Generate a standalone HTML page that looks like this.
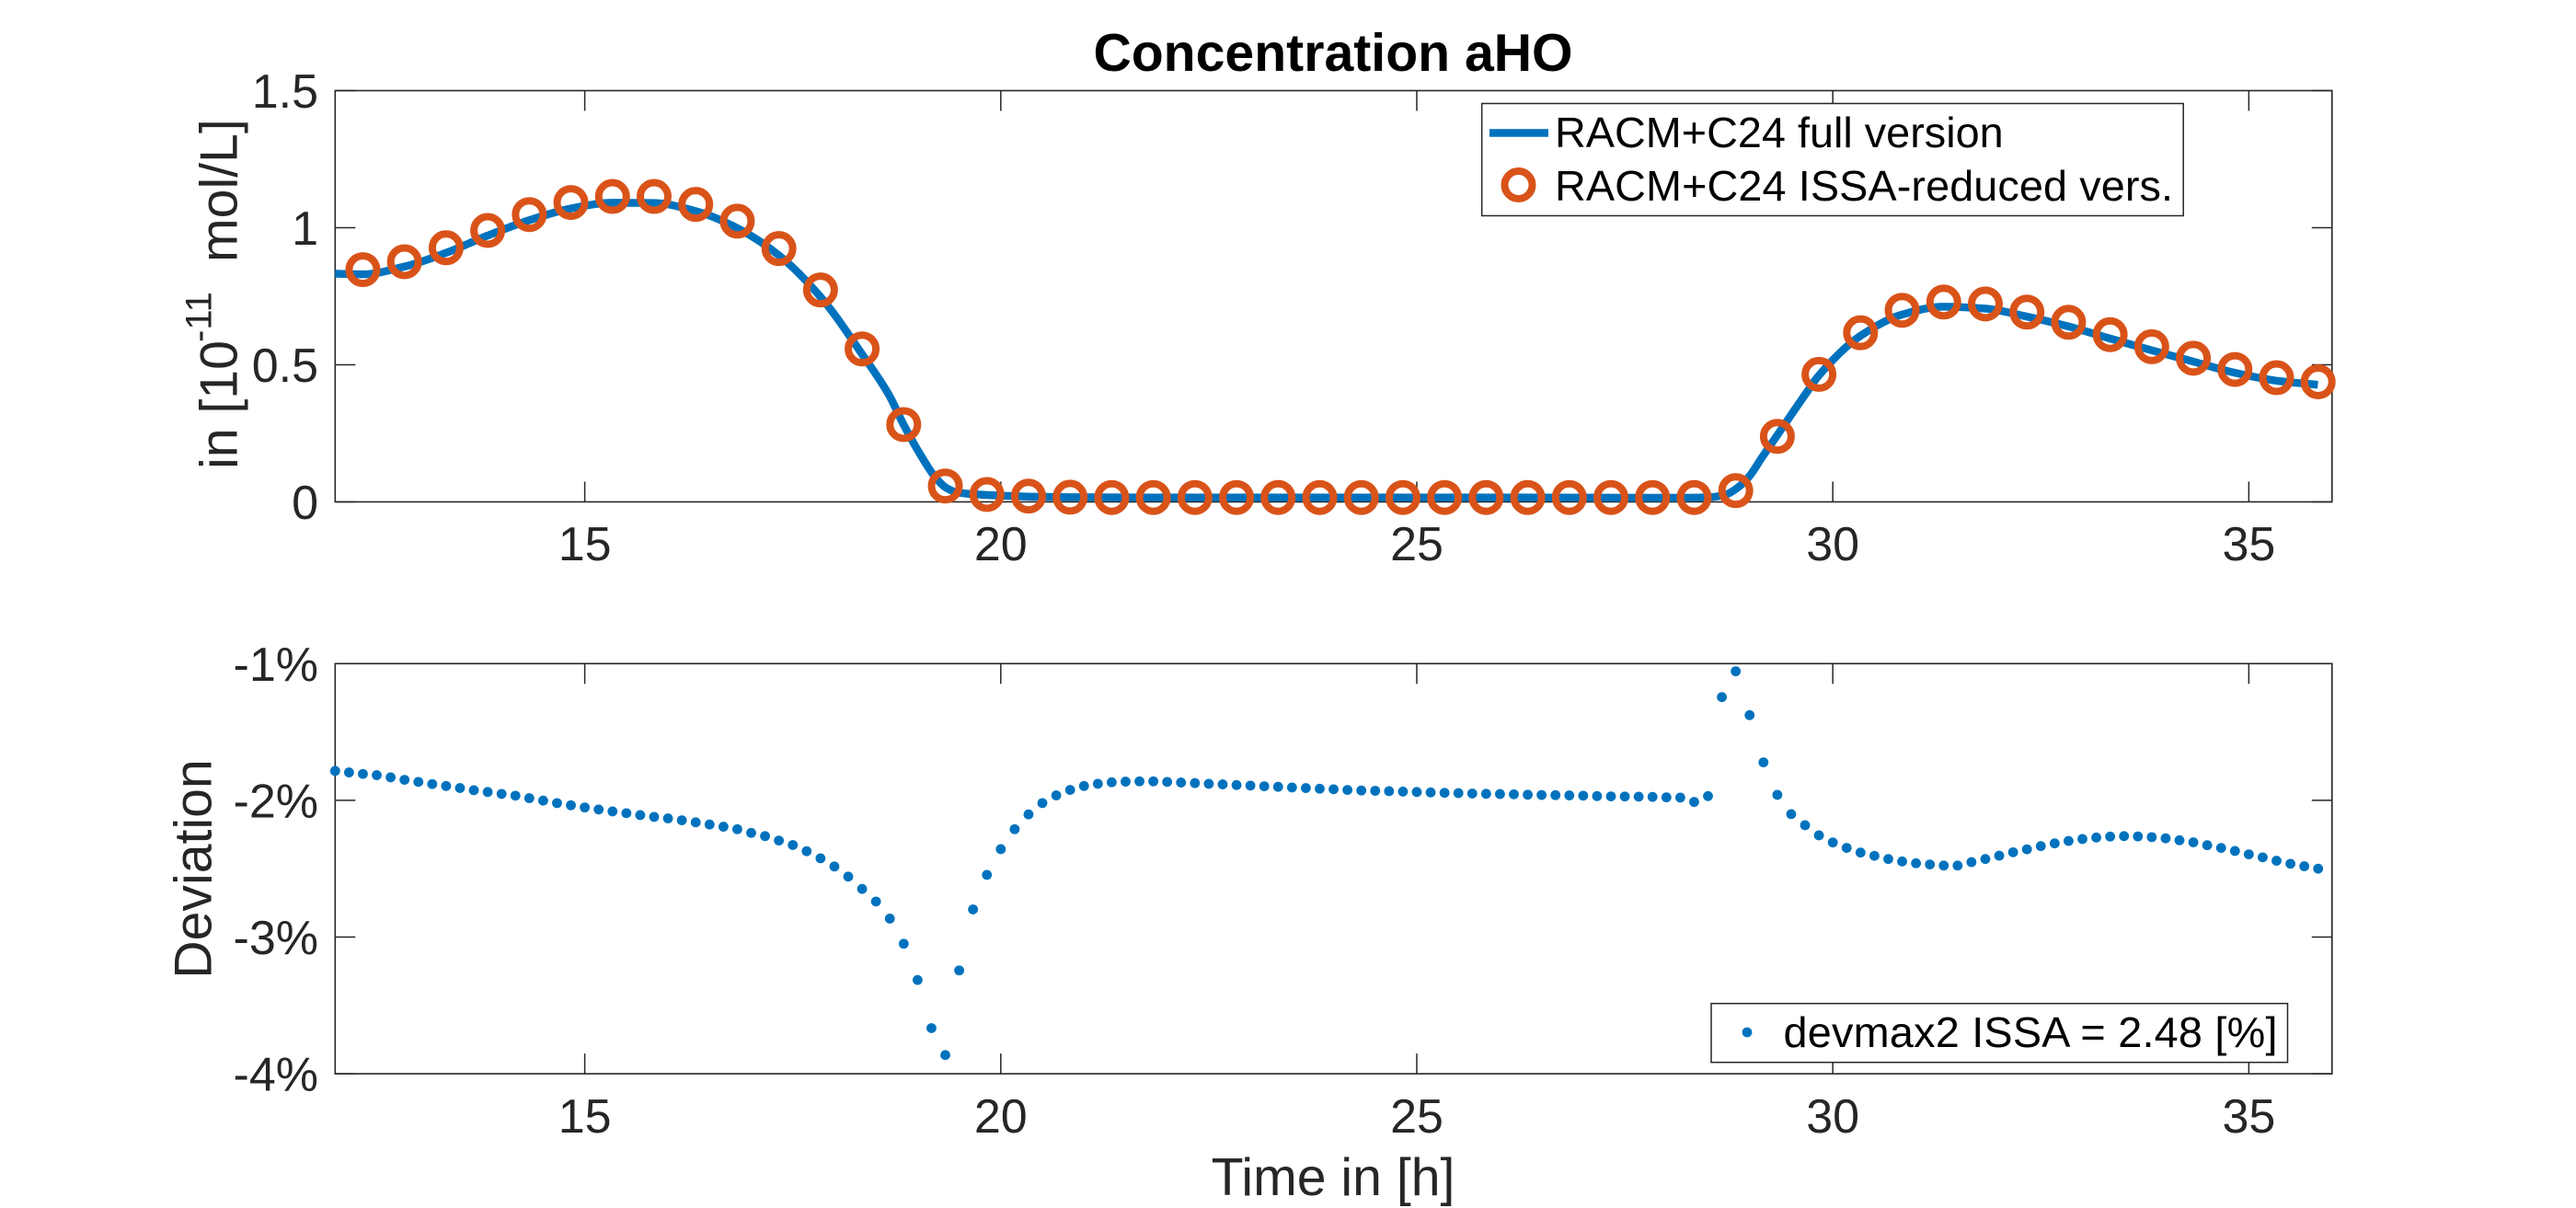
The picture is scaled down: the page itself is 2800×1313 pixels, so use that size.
<!DOCTYPE html>
<html>
<head>
<meta charset="utf-8">
<title>Concentration aHO</title>
<style>
html,body{margin:0;padding:0;background:#fff;}
svg{display:block;}
text{font-family:"Liberation Sans",sans-serif;}
</style>
</head>
<body>
<svg id="chart" xmlns="http://www.w3.org/2000/svg" width="2800" height="1313" viewBox="0 0 2800 1313">
  <rect x="0" y="0" width="2800" height="1313" fill="#fff"/>
  <text x="1449" y="77" text-anchor="middle" font-size="57.2" font-weight="bold" fill="#000">Concentration aHO</text>
  <g id="top-axes"></g>
  <g id="bottom-axes"></g>
  <text transform="translate(257.5 510) rotate(-90)" font-size="57.2" fill="#262626"><tspan x="0" y="0">in [10</tspan><tspan x="138" y="-28" font-size="40">-11</tspan><tspan x="225" y="0">mol/L]</tspan></text>
  <text transform="translate(229.5 944.5) rotate(-90)" text-anchor="middle" font-size="57.2" fill="#262626">Deviation</text>
  <text x="1449" y="1299" text-anchor="middle" font-size="57.2" fill="#262626">Time in [h]</text>
  <g id="top-legend">
    <rect x="1610.7" y="112.5" width="762.5" height="122" fill="#fff" stroke="#262626" stroke-width="1.5"/>
    <line x1="1619" y1="144.5" x2="1683" y2="144.5" stroke="#0072BD" stroke-width="8.5"/>
    <text x="1690" y="160" font-size="46.8" fill="#000">RACM+C24 full version</text>
    <circle cx="1650.5" cy="201" r="15" fill="none" stroke="#D95319" stroke-width="8"/>
    <text x="1690" y="218" font-size="46.8" fill="#000" textLength="672" lengthAdjust="spacing">RACM+C24 ISSA-reduced vers.</text>
  </g>
  <g id="bottom-legend">
    <rect x="1860" y="1090.7" width="626.5" height="64" fill="#fff" stroke="#262626" stroke-width="1.5"/>
    <circle cx="1899" cy="1122" r="5.4" fill="#0072BD"/>
    <text x="1938.5" y="1138" font-size="46.8" fill="#000" textLength="537" lengthAdjust="spacing">devmax2 ISSA = 2.48 [%]</text>
  </g>
</svg>
<script>
const xTickValues = [15, 20, 25, 30, 35];
const xTickLabels = ["15", "20", "25", "30", "35"];
const concTickValues = [0, 0.5, 1, 1.5];
const concTickLabels = ["0", "0.5", "1", "1.5"];
const devTickValues = [-1, -2, -3, -4];
const devTickLabels = ["-1%", "-2%", "-3%", "-4%"];

const fullTimes = [12, 12.33, 12.83, 13.33, 13.83, 14.33, 14.83, 15.33, 15.83, 16.33, 16.83, 17.33, 17.83, 18.33, 18.66, 18.83, 19.05, 19.21, 19.34, 19.47, 19.69, 20.06, 20.35, 20.83, 21.83, 23.83, 25.83, 27.83, 28.2, 28.53, 28.72, 28.87, 29, 29.14, 29.33, 29.66, 29.83, 30.33, 30.83, 31.33, 31.83, 32.33, 32.83, 33.33, 33.83, 34.33, 34.83, 35.33, 35.83];
const fullValues = [0.832, 0.830, 0.858, 0.908, 0.971, 1.027, 1.070, 1.091, 1.090, 1.061, 0.999, 0.900, 0.749, 0.540, 0.388, 0.283, 0.164, 0.091, 0.052, 0.035, 0.0275, 0.022, 0.019, 0.017, 0.016, 0.016, 0.016, 0.015, 0.015, 0.0174, 0.0275, 0.055, 0.0945, 0.158, 0.242, 0.388, 0.46, 0.605, 0.683, 0.712, 0.705, 0.676, 0.640, 0.596, 0.553, 0.512, 0.471, 0.442, 0.427];

const reducedValues = [0.847, 0.876, 0.927, 0.990, 1.048, 1.092, 1.114, 1.114, 1.085, 1.024, 0.924, 0.773, 0.558, 0.282, 0.058, 0.027, 0.021, 0.017, 0.016, 0.016, 0.016, 0.016, 0.016, 0.016, 0.016, 0.016, 0.016, 0.016, 0.016, 0.016, 0.016, 0.016, 0.016, 0.041, 0.239, 0.465, 0.617, 0.699, 0.729, 0.722, 0.692, 0.655, 0.610, 0.566, 0.524, 0.483, 0.453, 0.438];

const deviationValues = [
  -1.785, -1.796, -1.807, -1.816, -1.832, -1.850, -1.865, -1.881, -1.895, -1.910, -1.926, -1.939,
  -1.953, -1.966, -1.984, -2.002, -2.020, -2.036, -2.052, -2.067, -2.081, -2.094, -2.108, -2.121,
  -2.132, -2.146, -2.161, -2.177, -2.193, -2.211, -2.238, -2.262, -2.294, -2.327, -2.372, -2.424,
  -2.484, -2.558, -2.648, -2.740, -2.865, -3.049, -3.314, -3.666, -3.863, -3.244, -2.798, -2.545,
  -2.357, -2.211, -2.103, -2.020, -1.964, -1.924, -1.895, -1.879, -1.868, -1.863, -1.861, -1.861,
  -1.865, -1.870, -1.874, -1.879, -1.883, -1.888, -1.892, -1.897, -1.901, -1.906, -1.910, -1.915,
  -1.919, -1.924, -1.928, -1.930, -1.933, -1.936, -1.939, -1.942, -1.945, -1.947, -1.950, -1.952,
  -1.954, -1.956, -1.959, -1.961, -1.962, -1.964, -1.966, -1.969, -1.971, -1.972, -1.973, -1.975,
  -1.978, -1.980, -2.012, -1.969, -1.245, -1.056, -1.377, -1.722, -1.960, -2.101, -2.182, -2.256,
  -2.308, -2.348, -2.382, -2.406, -2.429, -2.447, -2.460, -2.469, -2.477, -2.477, -2.452, -2.429,
  -2.405, -2.380, -2.358, -2.335, -2.315, -2.297, -2.283, -2.272, -2.265, -2.262, -2.264, -2.269,
  -2.278, -2.292, -2.307, -2.328, -2.348, -2.370, -2.395, -2.417, -2.442, -2.464, -2.482, -2.500
];

const NS = "http://www.w3.org/2000/svg";
const AXIS_COLOR = "#262626";
const plotLeft = 364.3;
const plotRight = 2534.8;
const topPlot = { top: 98.5, bottom: 545.5 };
const botPlot = { top: 721.3, bottom: 1167.1 };

function xScale(h) { return plotLeft + (h - 12) * (plotRight - plotLeft) / 24; }
function concScale(v) { return topPlot.bottom - v * (topPlot.bottom - topPlot.top) / 1.5; }
function devScale(v) { return botPlot.top + (-1 - v) * (botPlot.bottom - botPlot.top) / 3; }

function make(tag, attrs, parent) {
  const el = document.createElementNS(NS, tag);
  for (const k in attrs) el.setAttribute(k, attrs[k]);
  parent.appendChild(el);
  return el;
}

function drawFrame(parent, plot, yTicks, yLabels, yScale, labelBaseline) {
  const frame = make("rect", { x: plotLeft, y: plot.top, width: plotRight - plotLeft, height: plot.bottom - plot.top, fill: "none", stroke: AXIS_COLOR, "stroke-width": 1.6 }, parent);
  
  
  xTickValues.forEach(function (t, i) {
    const px = xScale(t);
    const tickBottom = make("line", { x1: px, x2: px, y1: plot.bottom, y2: plot.bottom - 22, stroke: AXIS_COLOR, "stroke-width": 1.5 }, parent);
    
    
    const tickTop = make("line", { x1: px, x2: px, y1: plot.top, y2: plot.top + 22, stroke: AXIS_COLOR, "stroke-width": 1.5 }, parent);
    
    
    const label = make("text", { x: px, y: labelBaseline, "text-anchor": "middle", "font-size": 52, fill: AXIS_COLOR }, parent);
    label.textContent = xTickLabels[i];
    
    
  });
  yTicks.forEach(function (t, i) {
    const py = yScale(t);
    const tickLeft = make("line", { x1: plotLeft, x2: plotLeft + 22, y1: py, y2: py, stroke: AXIS_COLOR, "stroke-width": 1.5 }, parent);
    
    
    const tickRight = make("line", { x1: plotRight, x2: plotRight - 22, y1: py, y2: py, stroke: AXIS_COLOR, "stroke-width": 1.5 }, parent);
    
    
    const label = make("text", { x: 346, y: py + 18.5, "text-anchor": "end", "font-size": 52, fill: AXIS_COLOR }, parent);
    label.textContent = yLabels[i];
    
    
  });
}

function monotonePath(xs, ys) {
  const n = xs.length;
  const d = [], m = new Array(n);
  for (let i = 0; i < n - 1; i++) d.push((ys[i + 1] - ys[i]) / (xs[i + 1] - xs[i]));
  m[0] = d[0];
  m[n - 1] = d[n - 2];
  for (let i = 1; i < n - 1; i++) {
    if (d[i - 1] * d[i] <= 0) { m[i] = 0; continue; }
    const h0 = xs[i] - xs[i - 1], h1 = xs[i + 1] - xs[i];
    const w1 = 2 * h1 + h0, w2 = h1 + 2 * h0;
    m[i] = (w1 + w2) / (w1 / d[i - 1] + w2 / d[i]);
  }
  let p = "M" + xs[0].toFixed(2) + " " + ys[0].toFixed(2);
  for (let i = 0; i < n - 1; i++) {
    const h = (xs[i + 1] - xs[i]) / 3;
    p += "C" + (xs[i] + h).toFixed(2) + " " + (ys[i] + m[i] * h).toFixed(2) + " " +
      (xs[i + 1] - h).toFixed(2) + " " + (ys[i + 1] - m[i + 1] * h).toFixed(2) + " " +
      xs[i + 1].toFixed(2) + " " + ys[i + 1].toFixed(2);
  }
  return p;
}

const topAxes = document.getElementById("top-axes");
const bottomAxes = document.getElementById("bottom-axes");

drawFrame(topAxes, topPlot, concTickValues, concTickLabels, concScale, 609);
drawFrame(bottomAxes, botPlot, devTickValues, devTickLabels, devScale, 1231);

const fullLine = make("path", {
  d: monotonePath(fullTimes.map(xScale), fullValues.map(concScale)),
  fill: "none", stroke: "#0072BD", "stroke-width": 8.5, "stroke-linejoin": "round"
}, topAxes);



reducedValues.forEach(function (v, i) {
  const hour = 12 + 1 / 3 + i / 2;
  const marker = make("circle", { cx: xScale(hour), cy: concScale(v), r: 15, fill: "none", stroke: "#D95319", "stroke-width": 8 }, topAxes);
  
  
});

deviationValues.forEach(function (v, i) {
  const hour = 12 + i / 6;
  const dot = make("circle", { cx: xScale(hour), cy: devScale(v), r: 5.4, fill: "#0072BD" }, bottomAxes);
  
  
});
</script>
</body>
</html>
